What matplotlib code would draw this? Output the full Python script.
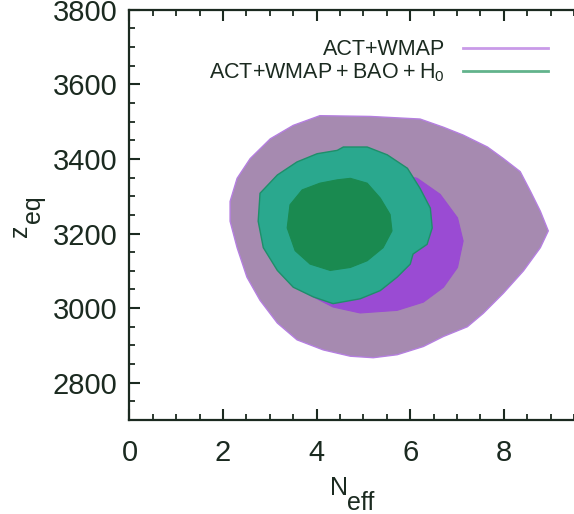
import matplotlib
matplotlib.use("Agg")
import matplotlib.pyplot as plt
from matplotlib.lines import Line2D
from matplotlib.ticker import MultipleLocator

plt.rcParams['font.family'] = ['Liberation Sans', 'DejaVu Sans']
plt.rcParams['mathtext.default'] = 'regular'

# ACT+WMAP: 95% (outer) and 68% (inner) confidence regions in (N_eff, z_eq)
act_wmap_95_neff = [4.07, 5.14, 6.21, 6.71, 7.13, 7.65, 7.99, 8.35, 8.57, 8.78, 8.95,
                    8.78, 8.42, 7.99, 7.56, 7.22, 6.71, 6.28, 5.72, 5.21, 4.72, 4.14,
                    3.58, 3.16, 2.79, 2.51, 2.30, 2.15, 2.15, 2.30, 2.58, 3.01, 3.50]
act_wmap_95_zeq = [3516, 3514, 3507, 3485, 3464, 3432, 3401, 3366, 3313, 3260, 3207,
                   3162, 3100, 3040, 2986, 2950, 2924, 2897, 2875, 2867, 2871, 2888,
                   2915, 2960, 3021, 3083, 3162, 3233, 3286, 3348, 3401, 3454, 3490]

act_wmap_68_neff = [6.15, 6.64, 7.01, 7.13, 7.01, 6.71, 6.28, 5.72, 4.93, 4.35,
                    3.65, 3.33, 3.54, 4.29, 5.36]
act_wmap_68_zeq = [3348, 3305, 3242, 3180, 3109, 3056, 3016, 2994, 2987, 3003,
                   3048, 3153, 3259, 3339, 3371]

# ACT+WMAP+BAO+H0: 95% and 68% confidence regions
act_bao_95_neff = [4.57, 5.08, 5.51, 5.94, 6.21, 6.43, 6.47, 6.36, 6.06, 6.00, 5.72,
                   5.36, 4.93, 4.35, 3.93, 3.50, 3.16, 2.86, 2.75, 2.79, 3.16, 3.58,
                   4.01, 4.44]
act_bao_95_zeq = [3432, 3432, 3411, 3375, 3321, 3268, 3215, 3171, 3145, 3118, 3083,
                  3047, 3025, 3012, 3030, 3056, 3101, 3162, 3233, 3308, 3357, 3392,
                  3414, 3423]

act_bao_68_neff = [4.72, 5.08, 5.36, 5.57, 5.61, 5.42, 5.08, 4.72, 4.29, 3.86, 3.54,
                   3.37, 3.43, 3.69, 4.07, 4.44]
act_bao_68_zeq = [3348, 3335, 3295, 3251, 3207, 3162, 3127, 3109, 3101, 3118, 3154,
                  3215, 3277, 3317, 3335, 3344]

x_ticks = [0, 2, 4, 6, 8]
y_ticks = [2800, 3000, 3200, 3400, 3600, 3800]
legend_labels = ['ACT+WMAP', 'ACT+WMAP\u2009+\u2009BAO\u2009+\u2009H$_0$']

ink = '#1b2a20'
W, H = 574, 514

fig = plt.figure(figsize=(W / 100, H / 100), dpi=100)
ax = fig.add_axes([0.2256, 0.1829, 0.7744, 0.7981])

ax.fill(act_wmap_95_neff, act_wmap_95_zeq, facecolor='#a68ab0', edgecolor='#b57fe0', lw=1.0, zorder=1)
ax.fill(act_wmap_68_neff, act_wmap_68_zeq, facecolor='#9a4bd3', edgecolor='#9a4bd3', lw=0.8, zorder=2)
ax.fill(act_bao_95_neff, act_bao_95_zeq, facecolor='#2aa88e', edgecolor='#1e8f6a', lw=1.0, zorder=3)
ax.fill(act_bao_68_neff, act_bao_68_zeq, facecolor='#1a8a50', edgecolor='#1a8a50', lw=0.8, zorder=4)

ax.set_xlim(0, 9.5)
ax.set_ylim(2700, 3800)
ax.set_xticks(x_ticks)
ax.set_yticks(y_ticks)
ax.xaxis.set_minor_locator(MultipleLocator(0.5))
ax.yaxis.set_minor_locator(MultipleLocator(50))

for side in ['left', 'bottom', 'top']:
    ax.spines[side].set_color(ink)
    ax.spines[side].set_linewidth(1.6)
ax.spines['right'].set_visible(False)

ax.tick_params(which='both', direction='in', top=True, right=False, color=ink,
               labelcolor=ink, labelsize=21)
ax.tick_params(which='major', length=8, width=1.5)
ax.tick_params(which='minor', length=4, width=1.3)
ax.tick_params(axis='x', pad=14)
ax.tick_params(axis='y', pad=8.5)

# Axis titles with full-size subscripts
lab = dict(fontsize=18, color=ink, ha='left', va='baseline')
fig.text(330 / W, 1 - 495 / H, 'N', **lab)
fig.text(347 / W, 1 - 510 / H, 'eff', **lab)
fig.text(27 / W, 1 - 237 / H, 'z', rotation=90, rotation_mode='anchor', **lab)
fig.text(40 / W, 1 - 223 / H, 'eq', rotation=90, rotation_mode='anchor', **lab)

handles = [Line2D([], [], color='#c99ae8', lw=2),
           Line2D([], [], color='#62b38c', lw=2)]
ax.legend(handles, legend_labels, loc='upper right', bbox_to_anchor=(0.9415, 0.928),
          markerfirst=False, frameon=False, fontsize=15.5, handlelength=3.95,
          handletextpad=0.84, labelspacing=0.05, borderpad=0, borderaxespad=0,
          labelcolor=ink)

fig.savefig('out.png', dpi=100)
